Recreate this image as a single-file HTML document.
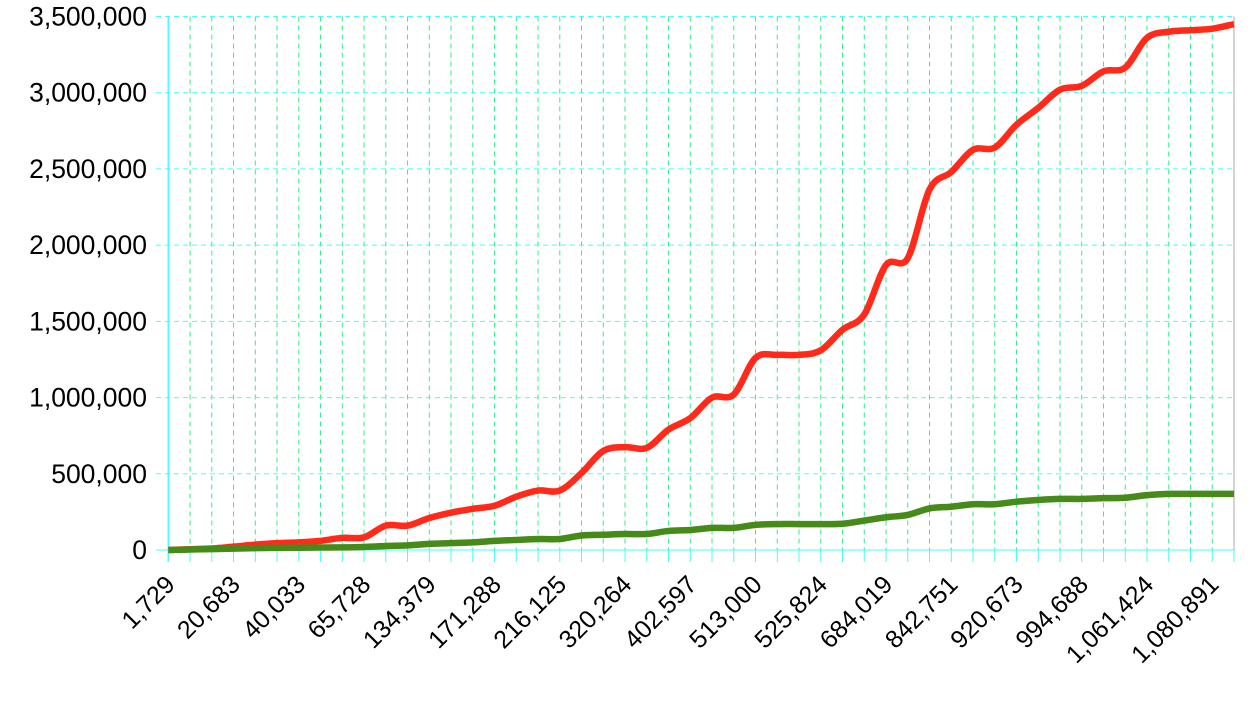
<!DOCTYPE html>
<html><head><meta charset="utf-8"><style>
body{margin:0;background:#fff;}
svg{display:block;font-family:"Liberation Sans",sans-serif;}
</style></head><body>
<svg id="chart" width="1259" height="708" xmlns="http://www.w3.org/2000/svg">
<g id="grid"></g>
<g id="axes"></g>
<g id="series"></g>
</svg>
<script>
const xLabels=["1,729","20,683","40,033","65,728","134,379","171,288","216,125","320,264","402,597","513,000","525,824","684,019","842,751","920,673","994,688","1,061,424","1,080,891"];
const redValues=[0,5000,10000,22000,35000,45000,50000,60000,80000,83000,160000,160000,210000,245000,270000,290000,350000,390000,390000,505000,650000,675000,670000,790000,865000,1000000,1020000,1260000,1280000,1280000,1310000,1445000,1545000,1870000,1915000,2365000,2480000,2625000,2640000,2790000,2900000,3020000,3045000,3140000,3165000,3360000,3400000,3410000,3420000,3450000];
const greenValues=[0,3000,6000,9000,12000,14000,15000,16000,17000,20000,26000,30000,40000,45000,50000,60000,66000,72000,72000,95000,100000,105000,105000,125000,131000,145000,145000,165000,170000,170000,170000,172000,193000,215000,230000,273000,284000,300000,300000,317000,328000,335000,335000,340000,343000,360000,368000,368000,368000,368000];
const yTicks=[0,500000,1000000,1500000,2000000,2500000,3000000,3500000];
const X0=168.3,X1=1234,Y0=550,Y1=16.5,YMAX=3500000;
const N=redValues.length;
const xs=i=>X0+(X1-X0)*i/(N-1);
const ys=v=>Y0-(Y0-Y1)*v/YMAX;
const NS="http://www.w3.org/2000/svg";
function mk(tag,attrs,parent){const e=document.createElementNS(NS,tag);for(const k in attrs)e.setAttribute(k,attrs[k]);parent.appendChild(e);return e;}
const grid=document.getElementById('grid'),axes=document.getElementById('axes'),series=document.getElementById('series');
for(let i=0;i<N;i++){
  const x=xs(i);
  const l=mk('line',{x1:x,x2:x,y1:Y1,y2:Y0,stroke:i==0?'#44ffff':'#33ee88','stroke-width':1,'stroke-dasharray':i==0?'':'5,4'},grid);
  
  
  const t=mk('line',{x1:x,x2:x,y1:Y0,y2:562,stroke:'#44ffff','stroke-width':1},axes);
  
  
}
mk('line',{x1:X1,x2:X1,y1:Y1,y2:Y0,stroke:'#aaaaaa','stroke-width':1},grid);
yTicks.forEach(v=>{
  const y=ys(v);
  const l=mk('line',{x1:156,x2:X1,y1:y,y2:y,stroke:'#44ffff','stroke-width':1,'stroke-dasharray':v==0?'':'5,4'},grid);
  
  
  const t=mk('text',{x:147,y:y+9,'text-anchor':'end','font-size':26.5,fill:'#000'},axes);
  t.textContent=v.toLocaleString('en-US');
  
  
});
mk('line',{x1:X0,x2:X0,y1:Y1,y2:562,stroke:'#44ffff','stroke-width':1.5},axes);
xLabels.forEach((s,k)=>{
  const x=xs(k*3);
  const t=mk('text',{x:0,y:0,'text-anchor':'end','font-size':25,fill:'#000',transform:`translate(${x+8},${586}) rotate(-45)`},axes);
  t.textContent=s;
  
  
});
function smooth(vals){
  const p=vals.map((v,i)=>[xs(i),ys(v)]);
  let d=`M${p[0][0]},${p[0][1]}`;
  for(let i=0;i<p.length-1;i++){
    const p0=p[Math.max(0,i-1)],p1=p[i],p2=p[i+1],p3=p[Math.min(p.length-1,i+2)];
    const c1=[p1[0]+(p2[0]-p0[0])/6,p1[1]+(p2[1]-p0[1])/6];
    const c2=[p2[0]-(p3[0]-p1[0])/6,p2[1]-(p3[1]-p1[1])/6];
    d+=` C${c1[0]},${c1[1]} ${c2[0]},${c2[1]} ${p2[0]},${p2[1]}`;
  }
  return d;
}
const r=mk('path',{d:smooth(redValues),fill:'none',stroke:'#ff2a1a','stroke-width':6.5,'stroke-linejoin':'round'},series);


const g=mk('path',{d:smooth(greenValues),fill:'none',stroke:'#468a1a','stroke-width':6.5,'stroke-linejoin':'round'},series);


</script>
</body></html>
